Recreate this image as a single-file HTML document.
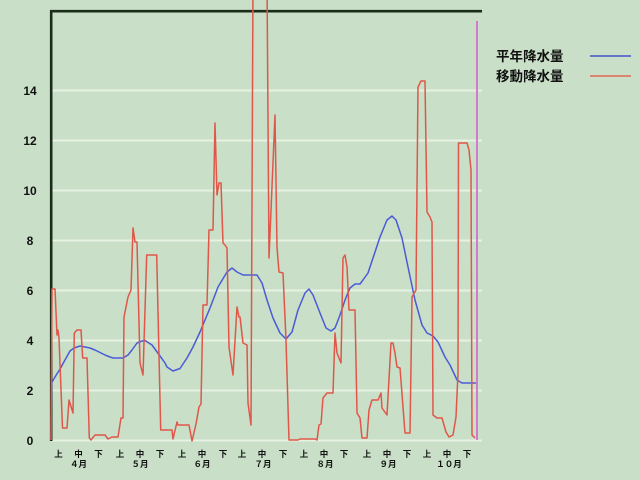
<!DOCTYPE html>
<html><head><meta charset="utf-8"><style>
html,body{margin:0;padding:0;background:#c9dfc7;}
svg{display:block;}
</style></head><body>
<svg width="640" height="480" viewBox="0 0 640 480" xmlns="http://www.w3.org/2000/svg">
<rect x="0" y="0" width="640" height="480" fill="#c9dfc7"/>
<g stroke="#e6f2e2" stroke-width="2">
<line x1="52" y1="440.5" x2="482" y2="440.5"/>
<line x1="52" y1="390.5" x2="482" y2="390.5"/>
<line x1="52" y1="340.5" x2="482" y2="340.5"/>
<line x1="52" y1="290.5" x2="482" y2="290.5"/>
<line x1="52" y1="240.5" x2="482" y2="240.5"/>
<line x1="52" y1="190.5" x2="482" y2="190.5"/>
<line x1="52" y1="140.5" x2="482" y2="140.5"/>
<line x1="52" y1="90.5" x2="482" y2="90.5"/>
</g>
<line x1="51.2" y1="10" x2="51.2" y2="441" stroke="#1c2c1a" stroke-width="2.6"/>
<line x1="50" y1="11.2" x2="482" y2="11.2" stroke="#1c2c1a" stroke-width="2.6"/>
<g font-family="'Liberation Sans', sans-serif" font-weight="bold" font-size="12" fill="#111" text-anchor="middle">
<text x="30" y="445">0</text>
<text x="30" y="395">2</text>
<text x="30" y="345">4</text>
<text x="30" y="295">6</text>
<text x="30" y="245">8</text>
<text x="30" y="195">10</text>
<text x="30" y="145">12</text>
<text x="30" y="95">14</text>
</g>
<polyline fill="none" stroke="#4b5bd8" stroke-width="1.5" stroke-linejoin="round" points="51,440 51.5,383 55,377 60,369 65,360 70,351 74,348 80,346 85,347 90,348 95,350 100,352.5 105,355 110,357 113,358 123,358 128,355 132,350 137,343 142,341 145,340.5 152,345 160,356 165,363 167,367 173,371 180,368.5 187,358 193,347 200,332 210,308 218,287 227,272 232,268 237,272 243,275 257,275 262,283 267,300 273,318 280,333 286,339 292,332 298,310 305,293 309,289 313,295 320,313 326,328 331,331 335,328 340,315 345,300 350,288 355,284 360,284 363,280 368,273 373,258 380,237 387,220 392,216 396,220 402,238 408,267 415,300 422,325 427,333 433,336 438,342 445,357 450,365 457,380 462,383 478,383"/>
<polyline fill="none" stroke="#e0574a" stroke-width="1.5" stroke-linejoin="round" points="51,440 52,289 55,289 57,335 58,330 59,338 62.5,428 67,428 69,400 73,413 74.3,333 77,330 81,330 82.7,358 87,358 89.3,438 91,440 95,435 105,435 108,439 112,437 118,437 121,418 123,418 124,317 128,297 131,290 133,228 135,242 137,242 140,363 143,375 146.7,255 156.7,255 160.7,430 172,430 173,439 177,422 178,425 189,425 192,441 196,424 199,407 201,404 203,305 207,305 209,230 213,230 215,123 217,195 219,183 221,183 223,243 225,245 227,248 229,347 233,375 237,307 239,317 240,317 243,343 247,345 248,403 251,425 253,-20 267,-20 269,258 275,115 277,247 279,272 283,273 286,340 289,440 298,440 300,439 315,439 317,440 319,425 321,424 323,398 327,393 333,393 335,333 337,353 341,363 343,258 345,255 347,267 349,310 355,310 357,413 360,418 362,438 367,438 369,410 372,400 378,400 381,393 382,408 387,415 391,343 393,343 395,353 397,367 400,368 405,433 410,433 412,297 416,290 418,87 421,81 425,81 427,212 430,217 432,222 433,415 437,418 442,418 446,432 449,437 453,435 456,417 458,373 458.5,143 467,143 469,150 471,170 472,435 475,438"/>
<line x1="477" y1="21" x2="477" y2="440" stroke="#d27ad2" stroke-width="2"/>
<g font-family="'Liberation Sans', 'Noto Sans CJK JP', sans-serif" font-weight="bold" font-size="8.5" fill="#111" text-anchor="middle">
<text x="58.5" y="457">上</text><text x="78.5" y="457">中</text><text x="98.5" y="457">下</text>
<text x="120" y="457">上</text><text x="140" y="457">中</text><text x="160" y="457">下</text>
<text x="182" y="457">上</text><text x="202" y="457">中</text><text x="223" y="457">下</text>
<text x="242" y="457">上</text><text x="262" y="457">中</text><text x="283" y="457">下</text>
<text x="304" y="457">上</text><text x="324" y="457">中</text><text x="344" y="457">下</text>
<text x="367" y="457">上</text><text x="387" y="457">中</text><text x="407" y="457">下</text>
<text x="427" y="457">上</text><text x="447" y="457">中</text><text x="467" y="457">下</text>
<text x="78.5" y="467">４月</text>
<text x="140" y="467">５月</text>
<text x="202" y="467">６月</text>
<text x="263" y="467">７月</text>
<text x="325" y="467">８月</text>
<text x="388" y="467">９月</text>
<text x="449" y="467">１０月</text>
</g>
<g font-family="'Liberation Sans', 'Noto Sans CJK JP', sans-serif" font-weight="bold" font-size="13.5" fill="#111">
<text x="496" y="61">平年降水量</text>
<text x="496" y="81">移動降水量</text>
</g>
<line x1="590" y1="56" x2="631" y2="56" stroke="#5566cc" stroke-width="1.8"/>
<line x1="590" y1="76" x2="631" y2="76" stroke="#dd7766" stroke-width="1.8"/>
</svg>
</body></html>
